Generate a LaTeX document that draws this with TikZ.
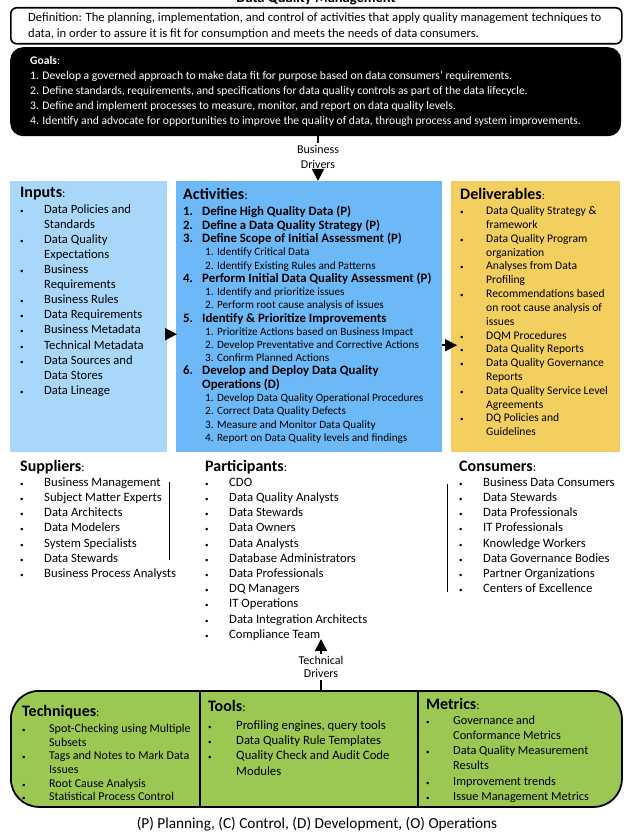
\documentclass[tikz,border=0pt]{standalone}
\usepackage{fontspec}
\setmainfont{Carlito}
\usetikzlibrary{positioning, arrows.meta}

\definecolor{inblue}{HTML}{A9D7F9}
\definecolor{actblue}{HTML}{6DB9F8}
\definecolor{delyellow}{HTML}{F2CF5F}
\definecolor{techgreen}{HTML}{9BC853}

% list block, heading, bullet line, continued line, numbered step, sub step
\newcommand{\lst}[1]{\begin{tabular}[t]{@{}l@{}}#1\end{tabular}}
\newcommand{\hd}[1]{{\bfseries\fontsize{16}{16}\selectfont #1}:}
\newcommand{\itm}[2][24pt]{\makebox[#1][l]{\scriptsize\textbullet}#2}
\newcommand{\cnt}[2][24pt]{\hspace*{#1}#2}
\newcommand{\stp}[2]{\makebox[19pt][l]{\textbf{#1}}\textbf{#2}}
\newcommand{\sbs}[1]{\hspace*{22pt}{\fontsize{11.2}{13.2}\selectfont #1}}

\begin{document}
\begin{tikzpicture}[
    x=1pt, y=-1pt,
    panel/.style={rectangle, anchor=north west, inner sep=0pt},
    list/.style={anchor=base west, inner sep=0pt},
    arr/.style={-{Triangle[length=12pt, width=12pt]}, line width=1.6pt},
    driver/.style={align=center, inner sep=0pt, font=\fontsize{12}{15}\selectfont}
]
\useasboundingbox (0,0) rectangle (633,834);

% --- Title (cut by the page edge) ---
\node[anchor=base, font=\bfseries\fontsize{14.5}{17}\selectfont] (title) at (316,3) {Data Quality Management};

% --- Definition ---
\node[panel, draw, line width=1.6pt, rounded corners=6pt, minimum width=611, minimum height=36] (defn) at (10,7) {};
\node[list, font=\fontsize{12.6}{16}\selectfont] (defntext) at (28,21.5) {\lst{%
    Definition: The planning, implementation, and control of activities that apply quality management techniques to\\
    data, in order to assure it is fit for consumption and meets the needs of data consumers.}};

% --- Goals ---
\node[panel, fill=black, rounded corners=13pt, minimum width=611, minimum height=89] (goals) at (10,47) {};
\node[list, text=white, font=\fontsize{11.6}{14.8}\selectfont] (goalstext) at (30,65) {\lst{%
    \textbf{Goals}:\\
    1. Develop a governed approach to make data fit for purpose based on data consumers' requirements.\\
    2. Define standards, requirements, and specifications for data quality controls as part of the data lifecycle.\\
    3. Define and implement processes to measure, monitor, and report on data quality levels.\\
    4. Identify and advocate for opportunities to improve the quality of data, through process and system improvements.}};

% --- Business drivers ---
\node[driver] (bdrivers) at (318,157) {Business\\Drivers};

% --- Inputs ---
\node[panel, fill=inblue, minimum width=157, minimum height=271] (inputs) at (10,181) {};
\node[list, font=\fontsize{12.6}{15.1}\selectfont] (inputstext) at (20,198) {\lst{%
    \hd{Inputs}\\
    \itm{Data Policies and}\\
    \cnt{Standards}\\
    \itm{Data Quality}\\
    \cnt{Expectations}\\
    \itm{Business}\\
    \cnt{Requirements}\\
    \itm{Business Rules}\\
    \itm{Data Requirements}\\
    \itm{Business Metadata}\\
    \itm{Technical Metadata}\\
    \itm{Data Sources and}\\
    \cnt{Data Stores}\\
    \itm{Data Lineage}}};

% --- Activities ---
\node[panel, fill=actblue, minimum width=266, minimum height=271] (activities) at (176,181) {};
\node[list, font=\fontsize{12.8}{13.2}\selectfont] (activitiestext) at (183,200) {\lst{%
    \hd{Activities}\\[2.3pt]
    \stp{1.}{Define High Quality Data (P)}\\
    \stp{2.}{Define a Data Quality Strategy (P)}\\
    \stp{3.}{Define Scope of Initial Assessment (P)}\\
    \sbs{1. Identify Critical Data}\\
    \sbs{2. Identify Existing Rules and Patterns}\\
    \stp{4.}{Perform Initial Data Quality Assessment (P)}\\
    \sbs{1. Identify and prioritize issues}\\
    \sbs{2. Perform root cause analysis of issues}\\
    \stp{5.}{Identify \& Prioritize Improvements}\\
    \sbs{1. Prioritize Actions based on Business Impact}\\
    \sbs{2. Develop Preventative and Corrective Actions}\\
    \sbs{3. Confirm Planned Actions}\\
    \stp{6.}{Develop and Deploy Data Quality}\\
    \cnt[19pt]{\textbf{Operations (D)}}\\
    \sbs{1. Develop Data Quality Operational Procedures}\\
    \sbs{2. Correct Data Quality Defects}\\
    \sbs{3. Measure and Monitor Data Quality}\\
    \sbs{4. Report on Data Quality levels and findings}}};

% --- Deliverables ---
\node[panel, fill=delyellow, minimum width=169, minimum height=271] (deliverables) at (451,181) {};
\node[list, font=\fontsize{11.6}{13.8}\selectfont] (deliverablestext) at (460,200) {\lst{%
    \hd{Deliverables}\\[1pt]
    \itm[26pt]{Data Quality Strategy \&}\\
    \cnt[26pt]{framework}\\
    \itm[26pt]{Data Quality Program}\\
    \cnt[26pt]{organization}\\
    \itm[26pt]{Analyses from Data}\\
    \cnt[26pt]{Profiling}\\
    \itm[26pt]{Recommendations based}\\
    \cnt[26pt]{on root cause analysis of}\\
    \cnt[26pt]{issues}\\
    \itm[26pt]{DQM Procedures}\\
    \itm[26pt]{Data Quality Reports}\\
    \itm[26pt]{Data Quality Governance}\\
    \cnt[26pt]{Reports}\\
    \itm[26pt]{Data Quality Service Level}\\
    \cnt[26pt]{Agreements}\\
    \itm[26pt]{DQ Policies and}\\
    \cnt[26pt]{Guidelines}}};

% --- Suppliers ---
\node[list, font=\fontsize{12.7}{15.2}\selectfont] (suppliers) at (20,471) {\lst{%
    \hd{Suppliers}\\
    \itm{Business Management}\\
    \itm{Subject Matter Experts}\\
    \itm{Data Architects}\\
    \itm{Data Modelers}\\
    \itm{System Specialists}\\
    \itm{Data Stewards}\\
    \itm{Business Process Analysts}}};

% --- Participants ---
\node[list, font=\fontsize{12.7}{15.2}\selectfont] (participants) at (205,471) {\lst{%
    \hd{Participants}\\
    \itm{CDO}\\
    \itm{Data Quality Analysts}\\
    \itm{Data Stewards}\\
    \itm{Data Owners}\\
    \itm{Data Analysts}\\
    \itm{Database Administrators}\\
    \itm{Data Professionals}\\
    \itm{DQ Managers}\\
    \itm{IT Operations}\\
    \itm{Data Integration Architects}\\
    \itm{Compliance Team}}};

% --- Consumers ---
\node[list, font=\fontsize{12.7}{15.2}\selectfont] (consumers) at (459,471) {\lst{%
    \hd{Consumers}\\
    \itm{Business Data Consumers}\\
    \itm{Data Stewards}\\
    \itm{Data Professionals}\\
    \itm{IT Professionals}\\
    \itm{Knowledge Workers}\\
    \itm{Data Governance Bodies}\\
    \itm{Partner Organizations}\\
    \itm{Centers of Excellence}}};

% --- Technical drivers ---
\node[driver, font=\fontsize{12}{12.6}\selectfont] (tdrivers) at (321,667) {Technical\\Drivers};
\coordinate (tdtip) at (321,639);

% --- Techniques / Tools / Metrics ---
\node[panel, draw, line width=1.8pt, fill=techgreen, rounded corners=28pt, minimum width=611, minimum height=116] (methods) at (10,690) {};
\draw[line width=1.8pt] (200,690) -- (200,806);
\draw[line width=1.8pt] (418,690) -- (418,806);

\node[list, font=\fontsize{12}{13.6}\selectfont] (techniques) at (22,716) {\lst{%
    \hd{Techniques}\\[3pt]
    \itm[27pt]{Spot-Checking using Multiple}\\
    \cnt[27pt]{Subsets}\\
    \itm[27pt]{Tags and Notes to Mark Data}\\
    \cnt[27pt]{Issues}\\
    \itm[27pt]{Root Cause Analysis}\\
    \itm[27pt]{Statistical Process Control}}};

\node[list, font=\fontsize{12.7}{15.3}\selectfont] (tools) at (208,711) {\lst{%
    \hd{Tools}\\[3pt]
    \itm[28pt]{Profiling engines, query tools}\\
    \itm[28pt]{Data Quality Rule Templates}\\
    \itm[28pt]{Quality Check and Audit Code}\\
    \cnt[28pt]{Modules}}};

\node[list, font=\fontsize{12.3}{15.2}\selectfont] (metrics) at (426,709) {\lst{%
    \hd{Metrics}\\
    \itm[27pt]{Governance and}\\
    \cnt[27pt]{Conformance Metrics}\\
    \itm[27pt]{Data Quality Measurement}\\
    \cnt[27pt]{Results}\\
    \itm[27pt]{Improvement trends}\\
    \itm[27pt]{Issue Management Metrics}}};

% --- Footer ---
\node[anchor=base, font=\fontsize{15.3}{17}\selectfont] (legend) at (317,828.5) {(P) Planning, (C) Control, (D) Development, (O) Operations};

% --- Connectors ---
\draw[line width=1.6pt] (goals.south -| bdrivers.north) -- ([yshift=2pt]bdrivers.north);
\draw[arr] ([yshift=-2pt]bdrivers.south) -- (bdrivers.south |- activities.north);
\draw[arr] ([yshift=-17.5pt]inputs.east) -- ([xshift=1pt, yshift=-17.5pt]inputs.east -| activities.west);
\draw[arr] ([yshift=-28.5pt]activities.east) -- ([xshift=6pt, yshift=-28.5pt]deliverables.west);
\draw[line width=1.6pt] (methods.north -| tdrivers.south) -- ([yshift=-2pt]tdrivers.south);
\draw[arr] ([yshift=2pt]tdrivers.north) -- (tdtip);

% --- Brackets beside suppliers and consumers ---
\draw[line width=1pt] (169,482) -- (169,560);
\draw[line width=1pt] (447,484) -- (447,592);

\end{tikzpicture}
\end{document}
